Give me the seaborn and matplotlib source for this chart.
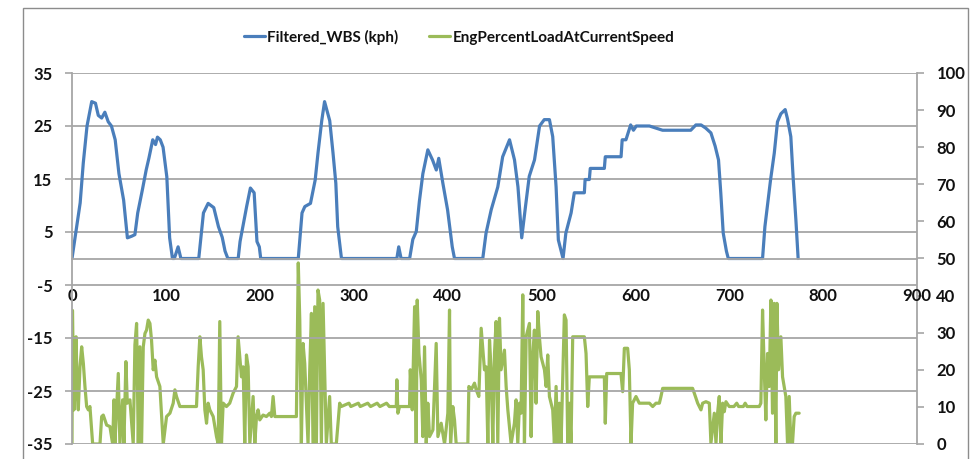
import matplotlib
matplotlib.use("Agg")
import matplotlib.pyplot as plt
import seaborn as sns
import pandas as pd
from matplotlib.patches import Rectangle

# ---- data ----
speed_time = [0, 5, 8.7, 12, 16, 21, 25, 28, 31.6, 35, 38.6, 42, 46, 50, 55, 59, 63.5, 67, 70, 75,
              79, 82, 86, 89, 91, 94, 97, 101, 104, 107, 109, 113, 116, 135, 140, 145, 151, 156, 160, 163,
              166, 177, 179, 186, 190, 194, 197, 199.5, 201, 241, 245, 248, 254, 259, 262, 266, 269, 274.5, 278, 281,
              283, 287, 346, 348, 350.5, 359.6, 363, 366.7, 370, 373.7, 379, 384, 388, 390.6, 395, 400, 405, 407.4, 437.5, 441,
              446.5, 453.5, 458.7, 466, 471.3, 475, 479, 483, 487, 492.6, 498, 503, 508.5, 512, 515.6, 518, 523, 526, 531.6, 535,
              545.7, 546.5, 551, 552, 567, 568, 584.8, 586, 590, 595, 598, 601, 615, 629, 659, 664.5, 670, 675, 680.5, 685,
              688.6, 691, 693.6, 697, 699, 735.5, 738, 741, 744, 748, 751.4, 755, 759.6, 762, 765.6, 768, 771, 773.4]
speed_kph = [0, 6, 10.5, 18, 25, 29.6, 29.3, 27, 26.5, 27.6, 25.8, 25, 22.4, 16, 11, 3.9, 4.2, 4.5, 8.6, 13,
             16.7, 19, 22.4, 21.5, 22.9, 22.4, 21, 15.4, 3.9, 0, 0, 2.2, 0, 0, 8.6, 10.4, 9.6, 6, 4, 1.4,
             0, 0, 3.2, 9.8, 13.3, 12.4, 3.2, 2.2, 0, 0, 8.6, 9.8, 10.4, 14.8, 19.9, 26, 29.6, 26, 19.9, 14.2,
             6, 0, 0, 2.2, 0, 0, 3.6, 5.1, 10.8, 16, 20.5, 18.6, 16.7, 18.9, 14.2, 9.2, 2.2, 0, 0, 4.8,
             9.2, 13.5, 19.2, 22.4, 18.6, 13.5, 3.9, 9.8, 15.5, 18.6, 25, 26.2, 26.2, 23, 13.5, 3.5, 0, 4.8, 8.6, 12.4,
             12.4, 14.9, 14.9, 17, 17, 19.2, 19.2, 22.4, 22.4, 25.2, 24.2, 25, 25, 24.2, 24.2, 25.2, 25.2, 24.6, 23.7, 21.2,
             18.6, 12.4, 4.8, 1.4, 0, 0, 6, 10.4, 14.8, 19.9, 25.8, 27.3, 28.1, 26.4, 23, 15.5, 7.3, 0]

load_time = [0, 0.5, 2.1, 4.3, 5.7, 6.7, 8.5, 10.3, 12.1, 13.8, 15.6, 17.4, 19.1, 22, 29.8, 31.6, 33.3, 36.9, 40.4, 43.3,
             44.7, 45.7, 49.3, 51, 53.9, 55.3, 57.4, 58.9, 61.7, 65.2, 67, 68.8, 70.6, 72.3, 74.1, 75.9, 77.7, 79.4, 81.2, 83,
             84.7, 86.5, 88.3, 90.1, 93.6, 97.2, 100.7, 104.3, 107.8, 109.6, 111.3, 114.9, 132.6, 134.4, 136.2, 137.9, 139.7, 141.5, 143.3, 145,
             146.8, 150.4, 153.9, 155.7, 157.4, 159.2, 161, 164.5, 168, 171.6, 175.2, 176.9, 178.7, 180.5, 182.3, 184, 185.8, 187.6, 189.4, 192.9,
             194.7, 196.5, 198.2, 200, 203.5, 207.1, 210.6, 212.4, 214.2, 216, 239, 241, 242.6, 244.3, 246.1, 247.9, 249.6, 251.4, 253.2, 255,
             256.7, 258.5, 260.3, 262, 263.8, 265.6, 267.4, 269, 270.9, 274.4, 276.2, 281.5, 285.1, 286.8, 295, 297, 305, 307, 315, 318,
             325, 328, 335, 338, 345.4, 346, 347.1, 348.9, 359.5, 360.3, 362.4, 364.9, 366.6, 367.7, 369.5, 372, 373.7, 375.5, 377.3, 379,
             380.8, 384.4, 387.9, 389.7, 393.2, 396.8, 400.3, 402.1, 403.2, 405.6, 407.4, 409.2, 421.6, 422.7, 425.2, 428.7, 430.5, 433.3, 435.8, 437.6,
             439.3, 441.1, 442.9, 444.7, 446.4, 448.2, 450, 451.7, 453.5, 455.3, 457, 460.6, 462.4, 464.2, 467.7, 471.2, 473, 474.8, 476.6, 478.3,
             480.1, 481.9, 483.7, 485.4, 487.2, 489, 490.7, 492.5, 494.3, 496.1, 497.8, 499.6, 503.2, 505, 506.7, 508.5, 512, 513.8, 515.6, 517.4,
             519.1, 520.9, 524.4, 526.2, 528, 529.8, 531.5, 533.3, 545.7, 547.5, 549.3, 551, 567, 568, 569.5, 584.7, 586.5, 588.3, 591.8, 593.6,
             595.4, 597.1, 600.7, 604.2, 615, 618.5, 622, 625.6, 627.3, 629.1, 661, 662.8, 666.4, 669.9, 671.7, 675.2, 678.8, 680.5, 684.1, 685.9,
             687.6, 689.4, 691.2, 693, 694.7, 696.5, 700, 705, 708, 710, 715, 717, 719, 732, 733.7, 735.5, 737.3, 739, 740.8, 742.6,
             744.4, 746.1, 747.9, 749.7, 750.8, 752.5, 755, 756.8, 758.5, 760.3, 762.1, 763.9, 765.6, 767.4, 769.2, 771, 774.5]
load_pct = [0, 36, 9.2, 28.9, 12.8, 9.2, 20.8, 26.2, 21.7, 15.5, 10.1, 9.2, 10.1, 0, 0, 7.4, 7.8, 5.1, 4.7, 0,
            11.9, 0, 19, 0, 11.9, 0, 22.2, 11, 11.9, 0, 26.7, 32.5, 0, 26.2, 0, 26.2, 29.8, 30.7, 33.4, 32.5,
            28, 20, 22.6, 18.1, 15.5, 0, 7.4, 8.3, 11, 14.6, 12.8, 10.1, 10.1, 20.8, 28.9, 23.5, 20, 9.2, 5.6, 11,
            9.2, 7.4, 2, 0, 33, 0, 11, 10.1, 11, 13.7, 15.5, 28.9, 23.5, 18.1, 20.8, 0, 24, 20.8, 0, 12.8,
            0, 7.4, 9.2, 6.5, 7.8, 7.4, 8.3, 7.4, 12.8, 7.4, 7.4, 48.8, 33.4, 0, 27.1, 21.7, 11, 0, 20, 35.2,
            0, 37, 0, 41.5, 38.8, 0, 37.9, 20, 0, 12.8, 0, 0, 11, 10.1, 11, 10.1, 11, 10.1, 11, 10.1,
            11, 10.1, 11, 10.1, 10.1, 17.3, 8.3, 10.1, 10.1, 20, 9.2, 37, 0, 38.8, 24.4, 17.3, 2, 26.2, 0.2, 11,
            2, 3.8, 27.1, 2, 5.6, 0, 8.3, 36.1, 0, 10.1, 6.5, 0, 0, 15.5, 14.6, 16.4, 14.6, 12.8, 31.2, 25.3,
            20, 20.8, 0, 28, 20, 0, 24.4, 33, 0, 33.9, 20, 25.3, 15.5, 9.2, 0, 5.6, 11.9, 0, 11, 8.3,
            40.2, 0, 28.9, 30.7, 32.5, 2, 23.5, 30.7, 11, 35.7, 28.9, 23.5, 20, 15.5, 24, 12.8, 9.2, 0, 15.5, 0,
            11, 0, 34.8, 33.4, 0, 11, 0, 28.9, 28.9, 24.4, 10.1, 18.1, 18.1, 5.6, 19, 19, 14.1, 25.8, 25.8, 20,
            0, 11, 12.8, 11, 11, 10.1, 11, 11, 12.8, 15, 15, 13.7, 11, 9.2, 11, 11.4, 11, 0.2, 8.3, 0.2,
            8.3, 12.8, 0.2, 11, 8.7, 11.4, 10.1, 10.1, 11, 10.1, 10.1, 11, 10.1, 10.1, 11, 36.1, 20, 6.5, 24.4, 15.5,
            38.8, 8.3, 37.9, 0.2, 37.9, 20, 28.9, 18.1, 15.5, 12.8, 0.2, 12.8, 0.2, 0.2, 7.4, 8.3, 8.3]

x_ticks = [0, 100, 200, 300, 400, 500, 600, 700, 800, 900]
left_ticks = [-35, -25, -15, -5, 5, 15, 25, 35]
right_ticks = [0, 10, 20, 30, 40, 50, 60, 70, 80, 90, 100]
series_names = ["Filtered_WBS (kph)", "EngPercentLoadAtCurrentSpeed"]

speed_df = pd.DataFrame({"t": speed_time, "v": speed_kph})
load_df = pd.DataFrame({"t": load_time, "v": load_pct})

sns.set_style("white")
plt.rcParams["font.family"] = ["Lato", "DejaVu Sans"]
plt.rcParams["axes.unicode_minus"] = False

BLUE = "#4a7ebb"
GREEN = "#9bbb59"
GRID = "#a6a6a6"
TXT = "#111111"

fig = plt.figure(figsize=(9.77, 4.59), dpi=100)
ax = fig.add_axes([72 / 977, 1 - 444 / 459, (917 - 72) / 977, (444 - 73) / 459])
ax2 = ax.twinx()

sns.lineplot(data=speed_df, x="t", y="v", ax=ax, color=BLUE, linewidth=2.3, label=series_names[0], legend=False)
sns.lineplot(data=load_df, x="t", y="v", ax=ax2, color=GREEN, linewidth=2.3, label=series_names[1], legend=False)

ax.set_xlim(0, 900)
ax.set_ylim(-35, 35)
ax2.set_ylim(0, 100)
ax.set_xticks(x_ticks)
ax.set_yticks(left_ticks)
ax2.set_yticks(right_ticks)
ax.set_xlabel("")
ax.set_ylabel("")
ax2.set_ylabel("")

ax.yaxis.grid(True, color=GRID, linewidth=1.3)
ax.xaxis.grid(False)
ax2.grid(False)

for s in ["top", "right"]:
    ax.spines[s].set_visible(False)
ax.spines["bottom"].set_position(("data", 0))
ax.spines["bottom"].set_color(GRID)
ax.spines["bottom"].set_linewidth(1.3)
ax.spines["left"].set_color(GRID)
ax.spines["left"].set_linewidth(1.3)
for s in ["top", "left", "bottom"]:
    ax2.spines[s].set_visible(False)
ax2.spines["right"].set_color(GRID)
ax2.spines["right"].set_linewidth(1.3)

ax.tick_params(axis="x", direction="out", length=5, width=1.2, color=GRID, pad=16,
               labelsize=12, labelcolor=TXT)
ax.tick_params(axis="y", direction="out", length=5, width=1.2, color=GRID, pad=9,
               labelsize=12, labelcolor=TXT)
ax2.tick_params(axis="y", direction="out", length=5, width=1.2, color=GRID, pad=9,
                labelsize=12, labelcolor=TXT)
for lab in ax.get_xticklabels() + ax.get_yticklabels() + ax2.get_yticklabels():
    lab.set_fontweight("bold")

ax.set_zorder(ax2.get_zorder() + 1)
ax.patch.set_visible(False)

h1, l1 = ax.get_legend_handles_labels()
h2, l2 = ax2.get_legend_handles_labels()
leg = fig.legend(h1 + h2, l1 + l2, loc="center", bbox_to_anchor=(459 / 977, 1 - 37 / 459), ncol=2,
                 frameon=False, handlelength=1.4, handletextpad=0.15, columnspacing=2.0,
                 prop={"size": 11, "weight": "bold"})
for t in leg.get_texts():
    t.set_color(TXT)

fig.patches.append(Rectangle((23 / 977, -0.05), (968 - 23) / 977, 1.05 - 8 / 459,
                             transform=fig.transFigure, fill=False, edgecolor="#8c8c8c",
                             linewidth=1.0, clip_on=False))

fig.savefig("out.png", dpi=100)
